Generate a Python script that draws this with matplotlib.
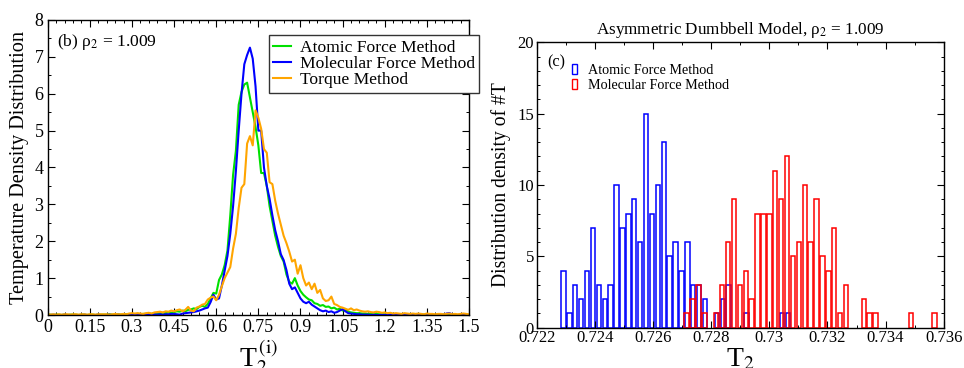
import numpy as np
import matplotlib.pyplot as plt
from matplotlib.patches import Patch
from matplotlib.ticker import MultipleLocator, FuncFormatter

plt.rcParams['font.family'] = ['Liberation Serif', 'DejaVu Serif']
plt.rcParams['mathtext.fontset'] = 'stix'

# (b) temperature density distributions, sampled every 0.01 in T2(i)
t_grid = np.round(np.arange(0, 1.501, 0.01), 2)

atomic = [
    0.01, 0.01, 0.0, 0.01, 0.01, 0.0, 0.01, 0.0, 0.01, 0.01,
    0.01, 0.0, 0.01, 0.01, 0.0, 0.01, 0.01, 0.0, 0.01, 0.01,
    0.01, 0.01, 0.02, 0.01, 0.01, 0.02, 0.01, 0.02, 0.02, 0.02,
    0.02, 0.02, 0.03, 0.02, 0.03, 0.03, 0.04, 0.03, 0.05, 0.04,
    0.05, 0.06, 0.05, 0.07, 0.06, 0.08, 0.10, 0.09, 0.12, 0.10,
    0.14, 0.15, 0.18, 0.16, 0.22, 0.25, 0.22, 0.30, 0.45, 0.60,
    0.58, 0.95, 1.10, 1.35, 1.75, 2.70, 3.80, 4.45, 5.70, 6.05,
    6.25, 6.30, 5.90, 5.50, 5.10, 4.60, 3.85, 3.85, 3.50, 2.95,
    2.55, 2.15, 1.85, 1.60, 1.45, 1.10, 0.90, 0.85, 1.00, 0.80,
    0.65, 0.55, 0.48, 0.42, 0.40, 0.32, 0.30, 0.25, 0.27, 0.22,
    0.23, 0.18, 0.20, 0.15, 0.17, 0.12, 0.14, 0.09, 0.07, 0.06,
    0.05, 0.05, 0.04, 0.04, 0.03, 0.03, 0.02, 0.03, 0.02, 0.02,
    0.02, 0.01, 0.01, 0.02, 0.01, 0.01, 0.01, 0.0, 0.01, 0.01,
    0.0, 0.01, 0.01, 0.0, 0.01, 0.0, 0.01, 0.0, 0.0, 0.01,
    0.0, 0.01, 0.0, 0.0, 0.01, 0.0, 0.0, 0.01, 0.0, 0.0,
    0.0,
]

molecular = [
    0.0, 0.0, 0.01, 0.0, 0.0, 0.0, 0.01, 0.0, 0.0, 0.0,
    0.0, 0.0, 0.0, 0.01, 0.0, 0.0, 0.0, 0.0, 0.01, 0.0,
    0.0, 0.0, 0.01, 0.0, 0.0, 0.01, 0.0, 0.0, 0.0, 0.01,
    0.01, 0.0, 0.01, 0.01, 0.01, 0.0, 0.01, 0.01, 0.02, 0.01,
    0.02, 0.01, 0.02, 0.02, 0.03, 0.03, 0.02, 0.01, 0.04, 0.05,
    0.06, 0.07, 0.08, 0.10, 0.12, 0.15, 0.18, 0.20, 0.35, 0.55,
    0.42, 0.45, 0.80, 1.20, 1.60, 2.20, 2.95, 3.90, 5.00, 6.00,
    6.80, 7.05, 7.25, 6.95, 6.20, 5.00, 5.00, 4.00, 3.50, 3.15,
    2.70, 2.30, 2.00, 1.65, 1.49, 1.22, 0.85, 0.70, 0.75, 0.60,
    0.45, 0.36, 0.32, 0.36, 0.28, 0.23, 0.18, 0.13, 0.10, 0.12,
    0.08, 0.10, 0.06, 0.08, 0.12, 0.16, 0.10, 0.05, 0.04, 0.03,
    0.02, 0.02, 0.01, 0.01, 0.01, 0.0, 0.01, 0.0, 0.0, 0.01,
    0.0, 0.0, 0.01, 0.0, 0.0, 0.0, 0.0, 0.01, 0.0, 0.0,
    0.0, 0.0, 0.0, 0.01, 0.0, 0.0, 0.0, 0.0, 0.0, 0.0,
    0.0, 0.01, 0.04, 0.05, 0.02, 0.0, 0.0, 0.0, 0.01, 0.0,
    0.0,
]

torque = [
    0.02, 0.01, 0.02, 0.01, 0.02, 0.01, 0.02, 0.02, 0.01, 0.02,
    0.02, 0.01, 0.02, 0.02, 0.01, 0.02, 0.02, 0.01, 0.02, 0.02,
    0.02, 0.02, 0.01, 0.02, 0.03, 0.02, 0.02, 0.03, 0.02, 0.04,
    0.05, 0.04, 0.05, 0.04, 0.03, 0.05, 0.06, 0.04, 0.07, 0.08,
    0.09, 0.07, 0.10, 0.09, 0.12, 0.10, 0.13, 0.15, 0.10, 0.14,
    0.22, 0.12, 0.10, 0.20, 0.23, 0.28, 0.30, 0.42, 0.47, 0.50,
    0.40, 0.55, 0.78, 1.00, 1.15, 1.30, 1.80, 2.20, 2.90, 3.45,
    3.55, 4.65, 4.85, 4.60, 5.55, 5.35, 5.05, 4.50, 4.40, 3.60,
    3.55, 3.10, 2.75, 2.45, 2.15, 1.95, 1.72, 1.45, 1.50, 1.12,
    1.35, 1.00, 0.80, 0.88, 0.70, 0.85, 0.60, 0.68, 0.45, 0.38,
    0.40, 0.50, 0.30, 0.27, 0.22, 0.20, 0.17, 0.14, 0.18, 0.13,
    0.15, 0.12, 0.10, 0.09, 0.10, 0.08, 0.07, 0.09, 0.08, 0.06,
    0.07, 0.05, 0.06, 0.04, 0.05, 0.04, 0.03, 0.05, 0.04, 0.03,
    0.04, 0.03, 0.04, 0.03, 0.02, 0.04, 0.03, 0.03, 0.02, 0.03,
    0.03, 0.02, 0.03, 0.04, 0.02, 0.03, 0.02, 0.03, 0.04, 0.03,
    0.02,
]

# (c) histograms of the mean T2 over runs
bin_width = 0.000203
atomic_start = 0.72292
atomic_counts = [4, 1, 3, 2, 4, 7, 3, 2, 3, 10, 7, 8, 9, 6, 15, 8, 10, 13, 5, 6,
                 4, 6, 3, 3, 2, 0, 1, 2, 3, 0, 0, 1, 0, 0, 0, 0, 0, 1, 1]
molecular_start = 0.72716
molecular_counts = [1, 2, 3, 1, 0, 1, 3, 6, 9, 3, 4, 2, 8, 8, 8, 11, 9, 12, 5, 6,
                    10, 6, 9, 5, 4, 7, 1, 3, 0, 0, 2, 1, 1, 0, 0, 0, 0, 0, 1, 0,
                    0, 0, 1]

fig = plt.figure(figsize=(9.64, 3.68), dpi=100)
ax1 = fig.add_axes([0.0495, 0.144, 0.437, 0.8017])
ax2 = fig.add_axes([0.5567, 0.1095, 0.4223, 0.7755])

fmt = FuncFormatter(lambda v, p: f"{v:g}")

for ax in (ax1, ax2):
    ax.tick_params(which='both', direction='in', top=True, right=True)
    ax.tick_params(which='major', length=5, width=0.8, labelsize=12.5, pad=3)
    ax.tick_params(which='minor', length=2.5, width=0.7)
    for s in ax.spines.values():
        s.set_linewidth(1.0)

# left panel
ax1.plot(t_grid, atomic, color='#00e000', lw=1.5, label='Atomic Force Method')
ax1.plot(t_grid, molecular, color='#0000ff', lw=1.5, label='Molecular Force Method')
ax1.plot(t_grid, torque, color='#ffa500', lw=1.5, label='Torque Method')
ax1.set_xlim(0, 1.5)
ax1.set_ylim(0, 8)
ax1.xaxis.set_major_locator(MultipleLocator(0.15))
ax1.xaxis.set_minor_locator(MultipleLocator(0.03))
ax1.yaxis.set_major_locator(MultipleLocator(1))
ax1.yaxis.set_minor_locator(MultipleLocator(0.5))
ax1.xaxis.set_major_formatter(fmt)
ax1.tick_params(which='major', labelsize=13)
ax1.set_xlabel('T$_2^{\\,\\mathrm{(i)}}$', fontsize=20)
ax1.xaxis.set_label_coords(0.5, -0.078)
ax1.set_ylabel('Temperature Density Distribution', fontsize=14.6, va='center')
ax1.yaxis.set_label_coords(-0.068, 0.5)
ax1.text(0.022, 0.959, '(b) ρ$_2$ = 1.009', transform=ax1.transAxes,
         fontsize=12.6, va='top', ha='left')
leg1 = ax1.legend(loc='upper left', bbox_to_anchor=(0.525, 0.949), borderaxespad=0,
                  fontsize=12.6, handlelength=1.0, handletextpad=0.5,
                  labelspacing=0.0, borderpad=0.25, fancybox=False,
                  edgecolor='#333333', framealpha=1)
leg1.get_frame().set_linewidth(1.0)

# right panel
ac = np.array(atomic_counts)
mc = np.array(molecular_counts)
a_pos = atomic_start + bin_width * np.arange(len(ac))
m_pos = molecular_start + bin_width * np.arange(len(mc))
ax2.bar(a_pos[ac > 0], ac[ac > 0], width=0.75 * bin_width, fill=False,
        edgecolor='#0000ff', linewidth=1.1)
ax2.bar(m_pos[mc > 0], mc[mc > 0], width=0.75 * bin_width, fill=False,
        edgecolor='#ff0000', linewidth=1.1)
ax2.set_xlim(0.722, 0.736)
ax2.set_ylim(0, 20)
ax2.xaxis.set_major_locator(MultipleLocator(0.002))
ax2.xaxis.set_minor_locator(MultipleLocator(0.001))
ax2.yaxis.set_major_locator(MultipleLocator(5))
ax2.yaxis.set_minor_locator(MultipleLocator(1))
ax2.xaxis.set_major_formatter(fmt)
ax2.tick_params(which='major', labelsize=12, pad=2)
ax2.set_title('Asymmetric Dumbbell Model, ρ$_2$ = 1.009', fontsize=12.3, pad=6)
ax2.set_xlabel('T$_2$', fontsize=20)
ax2.xaxis.set_label_coords(0.5, -0.067)
ax2.set_ylabel('Distribution density of #T', fontsize=14.1, va='center')
ax2.yaxis.set_label_coords(-0.088, 0.5)
ax2.text(0.025, 0.959, '(c)', transform=ax2.transAxes, fontsize=11.7,
         va='top', ha='left')
handles = [Patch(facecolor='none', edgecolor='#0000ff', linewidth=1.0),
           Patch(facecolor='none', edgecolor='#ff0000', linewidth=1.0)]
ax2.legend(handles, ['Atomic Force Method', 'Molecular Force Method'],
           loc='upper left', bbox_to_anchor=(0.087, 0.924), borderaxespad=0,
           frameon=False, fontsize=10.2, handlelength=0.35, handleheight=0.75,
           handletextpad=0.8, labelspacing=0.1, borderpad=0)

fig.savefig('out.png', dpi=100)
